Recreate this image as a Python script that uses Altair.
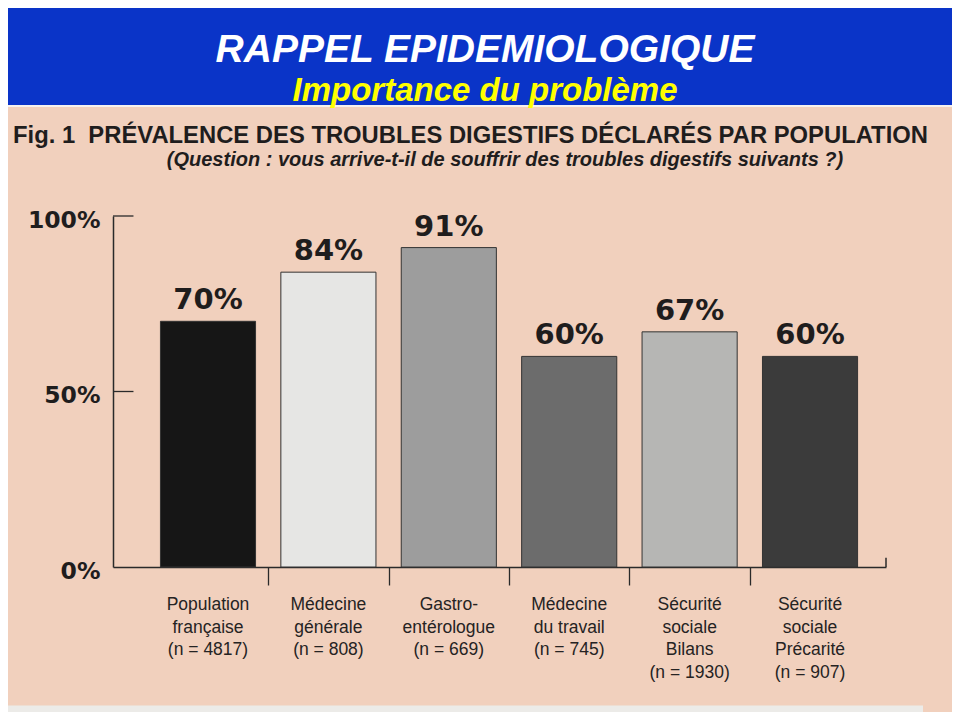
import altair as alt
import pandas as pd

# ---------------- data ----------------
categories = [
    "Population française",
    "Médecine générale",
    "Gastro-entérologue",
    "Médecine du travail",
    "Sécurité sociale Bilans",
    "Sécurité sociale Précarité",
]
label_lines = [
    "Population\nfrançaise",
    "Médecine\ngénérale",
    "Gastro-\nentérologue",
    "Médecine\ndu travail",
    "Sécurité\nsociale\nBilans",
    "Sécurité\nsociale\nPrécarité",
]
sample_sizes = [4817, 808, 669, 745, 1930, 907]
prevalence = [70, 84, 91, 60, 67, 60]
y_ticks = [0, 50, 100]

header_title = "RAPPEL EPIDEMIOLOGIQUE"
header_subtitle = "Importance du problème"
fig_title = "Fig. 1\u00a0 PRÉVALENCE DES TROUBLES DIGESTIFS DÉCLARÉS PAR POPULATION"
fig_subtitle = "(Question : vous arrive-t-il de souffrir des troubles digestifs suivants ?)"

# ---------------- styles / layout ----------------
bar_colors = ["#161616", "#e6e6e4", "#9d9d9d", "#6c6c6c", "#b6b6b4", "#3b3b3b"]
BLUE = "#0a34c8"
BEIGE = "#f1d0bd"
INK = "#1f1d1d"
AX = "#2a2a2a"

PAD = {"left": 105, "top": 208, "right": 66, "bottom": 145}
PW, PH = 773, 351          # plot area
CW = PW + PAD["left"] + PAD["right"]   # canvas width 944
CH = PH + PAD["top"] + PAD["bottom"]   # canvas height 704
HALF = 0.395
X_DOMAIN = [-0.789, 5.631]

df = pd.DataFrame({
    "cat": categories,
    "idx": list(range(len(categories))),
    "value": prevalence,
    "n": sample_sizes,
    "lab": label_lines,
})
df["x0"] = df["idx"] - HALF
df["x1"] = df["idx"] + HALF
df["pct"] = df["value"].astype(str) + "%"
df["full_label"] = df["lab"] + "\n(n = " + df["n"].astype(str) + ")"

boundaries = [i + 0.5 for i in range(len(categories) - 1)]

xs = alt.Scale(domain=X_DOMAIN, nice=False, zero=False)
ys = alt.Scale(domain=[0, 100], nice=False)
x_axis = alt.Axis(values=boundaries, orient="bottom", labels=False, title=None,
                  grid=False, tickSize=18, tickColor=AX, tickWidth=1.3,
                  domainColor=AX, domainWidth=1.5)
y_axis = alt.Axis(values=y_ticks, orient="left", ticks=False, title=None,
                  labelExpr="datum.value + '%'", labelFont="DejaVu Sans",
                  labelFontWeight="bold", labelFontSize=23.5, labelColor=INK,
                  labelPadding=13, labelOffset=4, grid=False,
                  domainColor=AX, domainWidth=1.5)

bars = alt.Chart(df).mark_bar(stroke="#333333", strokeWidth=1).encode(
    x=alt.X("x0:Q", scale=xs, axis=x_axis),
    x2="x1:Q",
    y=alt.Y("value:Q", scale=ys, axis=y_axis),
    y2=alt.datum(0),
    color=alt.Color("cat:N", scale=alt.Scale(domain=categories, range=bar_colors), legend=None),
)

tick_df = pd.DataFrame({"v": [t for t in y_ticks if t > 0]})
tick_df["xa"] = X_DOMAIN[0]
tick_df["xb"] = X_DOMAIN[0] + 0.17
inner_ticks = alt.Chart(tick_df).mark_rule(color=AX, strokeWidth=1.3).encode(
    x=alt.X("xa:Q", scale=xs, axis=x_axis), x2="xb:Q",
    y=alt.Y("v:Q", scale=ys, axis=y_axis),
)

end_df = pd.DataFrame({"xe": [X_DOMAIN[1]], "ya": [0], "yb": [2.6]})
end_tick = alt.Chart(end_df).mark_rule(color=AX, strokeWidth=1.5).encode(
    x=alt.X("xe:Q", scale=xs, axis=x_axis),
    y=alt.Y("ya:Q", scale=ys, axis=y_axis), y2="yb:Q",
)

value_labels = alt.Chart(df).mark_text(
    font="DejaVu Sans", fontWeight="bold", fontSize=29, baseline="alphabetic",
    align="center", dy=-12, color=INK,
).encode(
    x=alt.X("idx:Q", scale=xs, axis=x_axis),
    y=alt.Y("value:Q", scale=ys, axis=y_axis),
    text="pct:N",
)

cat_labels = alt.Chart(df).mark_text(
    font="Liberation Sans", fontSize=17.5, lineBreak="\n", lineHeight=22.5,
    baseline="top", align="center", color="#252323",
).encode(
    x=alt.X("idx:Q", scale=xs, axis=x_axis),
    y=alt.value(380),
    text="full_label:N",
)

# ---------------- slide decorations (pixel positions relative to plot origin) ----------------
L, T = PAD["left"], PAD["top"]
one = pd.DataFrame({"k": [0]})
header_bg = alt.Chart(one).mark_rect(color=BLUE).encode(
    x=alt.value(-L), x2=alt.value(CW - L), y=alt.value(-T), y2=alt.value(-T + 97))
header_line = alt.Chart(one).mark_rect(color="#f6f1ee").encode(
    x=alt.value(-L), x2=alt.value(CW - L), y=alt.value(-T + 97), y2=alt.value(-T + 99))
bottom_strip = alt.Chart(one).mark_rect(color="#ecebe8").encode(
    x=alt.value(-L), x2=alt.value(915 - L), y=alt.value(CH - T - 6.5), y2=alt.value(CH - T))


def label(text, x, y, size, color, align="center", style="normal", weight="bold",
          font="Liberation Sans"):
    return alt.Chart(pd.DataFrame({"t": [text]})).mark_text(
        font=font, fontSize=size, fontWeight=weight, fontStyle=style,
        align=align, baseline="alphabetic", color=color,
    ).encode(x=alt.value(x), y=alt.value(y), text="t:N")


t1 = label(header_title, 372, -154, 39, "#ffffff", style="italic")
t2 = label(header_subtitle, 372, -115, 33, "#ffff00", style="italic")
t3 = label(fig_title, -100, -73, 23.8, INK, align="left")
t4 = label(fig_subtitle, 392, -50, 20, INK, style="italic")

chart = alt.layer(
    header_bg, header_line, bottom_strip,
    bars, inner_ticks, end_tick, value_labels, cat_labels,
    t1, t2, t3, t4,
).properties(
    width=PW, height=PH, padding=PAD, autosize="none", background=BEIGE,
).configure_view(stroke=None)

chart.save("out.html", embed_options={"renderer": "svg", "actions": False})
